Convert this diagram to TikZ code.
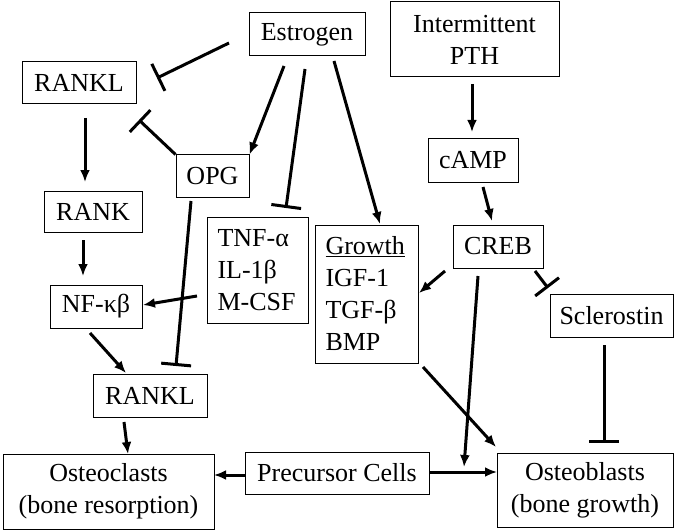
\documentclass[tikz,border=0pt]{standalone}
\usepackage{fontspec}
\setmainfont{Liberation Serif}
\usetikzlibrary{arrows.meta}
\begin{document}
\begin{tikzpicture}[x=1pt,y=-1pt,
  box/.style={draw,line width=1pt,inner sep=0pt,font=\fontsize{26}{32}\selectfont},
  lbox/.style={box,align=left,inner xsep=10pt},
  act/.style={line width=3pt,-{Latex[length=12pt,width=10pt]}},
  inh/.style={line width=3pt,-{Bar[width=30pt]}}]
\useasboundingbox (0,0) rectangle (680,532);
\node[box,minimum width=116pt,minimum height=43pt] (estrogen) at (307,34.5) {Estrogen};
\node[box,minimum width=114pt,minimum height=42pt] (rankl1) at (79,83) {RANKL};
\node[box,minimum width=73pt,minimum height=42pt] (opg) at (212.5,176) {OPG};
\node[box,minimum width=98pt,minimum height=41pt] (rank) at (93,211.5) {RANK};
\node[lbox,text width=81pt,minimum height=106pt] (tnf) at (258,270) {TNF-α\\IL-1β\\M-CSF};
\node[lbox,text width=83pt,minimum height=138pt] (growth) at (367,294) {\underline{Growth}\\IGF-1\\TGF-β\\BMP};
\node[box,align=center,minimum width=169pt,minimum height=75pt] (pth) at (474.5,39.5) {Intermittent\\PTH};
\node[box,minimum width=90pt,minimum height=43pt] (camp) at (473,160.5) {cAMP};
\node[box,minimum width=90pt,minimum height=43pt] (creb) at (498,246.5) {CREB};
\node[box,minimum width=123pt,minimum height=43pt] (scl) at (611.5,315.5) {Sclerostin};
\node[box,minimum width=92pt,minimum height=43pt] (nfkb) at (96,306.5) {NF-κβ};
\node[box,minimum width=114pt,minimum height=43pt] (rankl2) at (150,395.5) {RANKL};
\node[box,align=center,minimum width=211pt,minimum height=75pt] (oclast) at (108.5,491.5) {Osteoclasts\\(bone resorption)};
\node[box,minimum width=184pt,minimum height=42pt] (precursor) at (337,473) {Precursor Cells};
\node[box,align=center,minimum width=176pt,minimum height=74pt] (oblast) at (585,490) {Osteoblasts\\(bone growth)};
\coordinate (crebEnd) at (464,467);
% connectors
\draw[inh] ([shift={(-78,8.5)}]estrogen.center) -- ([shift={(78,-5)}]rankl1.center);
\draw[inh] (opg.north west) -- ([shift={(60,37)}]rankl1.center);
\draw[act] ([shift={(-23,31.5)}]estrogen.center) -- (opg.north east);
\draw[inh] ([shift={(-2,34.5)}]estrogen.center) -- ([shift={(28,-62)}]tnf.center);
\draw[act] ([shift={(27,26.5)}]estrogen.center) -- ([shift={(13,-70)}]growth.center);
\draw[act] ([shift={(-2.5,44.5)}]pth.center) -- ([shift={(-1,-28.5)}]camp.center);
\draw[act] ([shift={(10,26.5)}]camp.center) -- ([shift={(-6,-25.5)}]creb.center);
\draw[act] ([shift={(6,35)}]rankl1.center) -- ([shift={(-8,-29.5)}]rank.center);
\draw[act] ([shift={(-10,28.5)}]rank.center) -- ([shift={(-13,-30.5)}]nfkb.center);
\draw[act] ([shift={(-61,26)}]tnf.center) -- ([shift={(47,-1.5)}]nfkb.center);
\draw[inh] ([shift={(-21.5,25)}]opg.center) -- ([shift={(26,-29.5)}]rankl2.center);
\draw[act] ([shift={(-6,26.5)}]nfkb.center) -- ([shift={(-24,-22.5)}]rankl2.center);
\draw[act] ([shift={(-26,26.5)}]rankl2.center) -- ([shift={(19.5,-37.5)}]oclast.center);
\draw[act] ([shift={(-92,2)}]precursor.center) -- ([shift={(105.5,-16.5)}]oclast.center);
\draw[act] ([shift={(92,-1)}]precursor.center) -- ([shift={(-88,-18)}]oblast.center);
\draw[act] ([shift={(-20,29.5)}]creb.center) -- (crebEnd);
\draw[act] ([shift={(-53,24.5)}]creb.center) -- ([shift={(52,-1)}]growth.center);
\draw[inh] ([shift={(37,24.5)}]creb.center) -- ([shift={(-63.5,-27.5)}]scl.center);
\draw[act] ([shift={(56,73)}]growth.center) -- ([shift={(-89,-43)}]oblast.center);
\draw[inh] ([shift={(-7.5,29.5)}]scl.center) -- ([shift={(19,-47)}]oblast.center);
\end{tikzpicture}
\end{document}
